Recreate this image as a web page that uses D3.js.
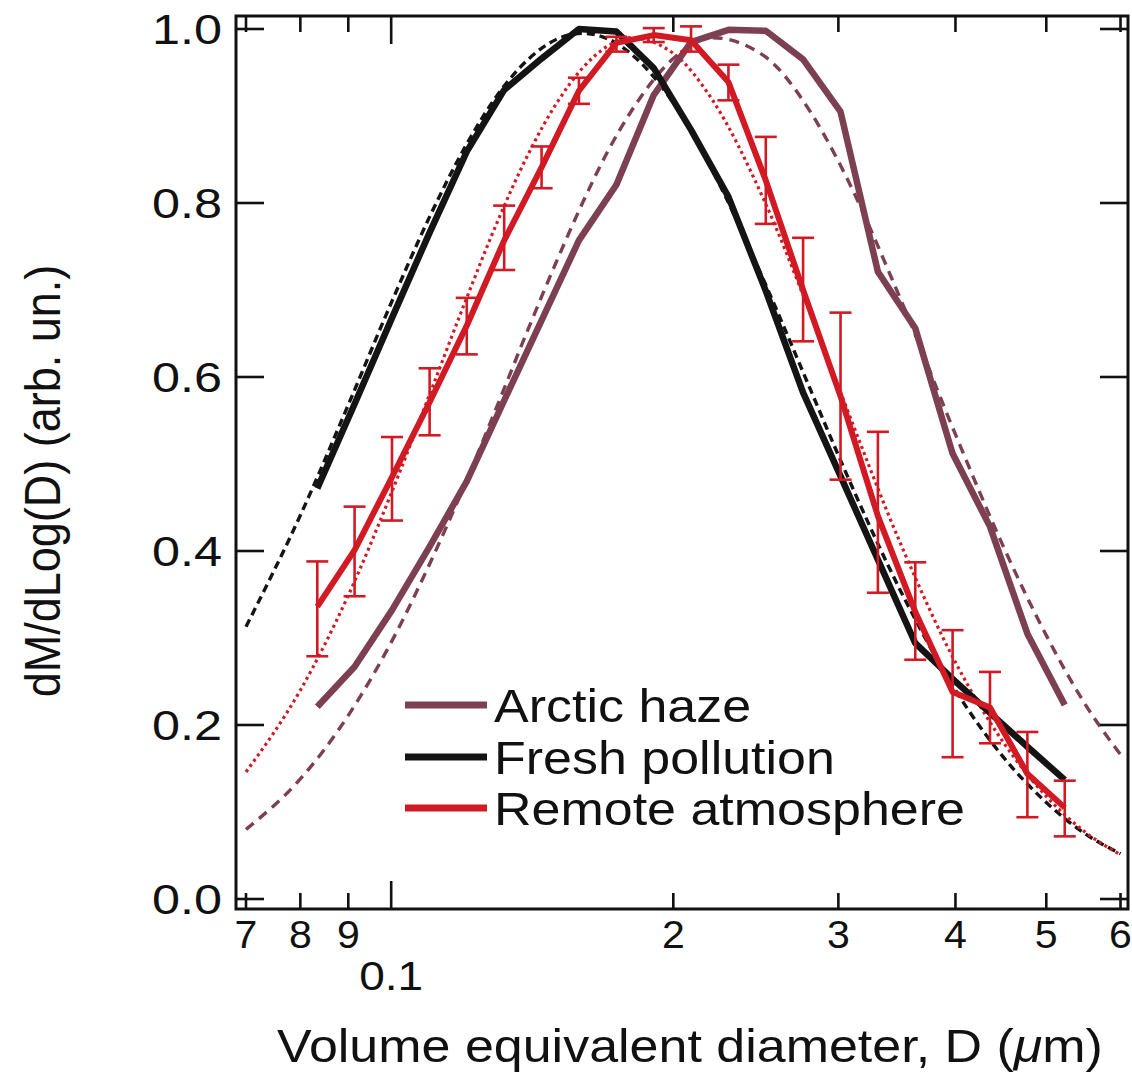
<!DOCTYPE html>
<html><head><meta charset="utf-8">
<script src="https://cdn.jsdelivr.net/npm/d3@7"></script>
<style>html,body{margin:0;padding:0;background:#fff;}svg{display:block;}</style>
</head><body>
<script>
// ---- data ----
const diameters = [0.0834, 0.0914, 0.1002, 0.1099, 0.1204, 0.1320, 0.1447, 0.1586, 0.1739, 0.1906, 0.2089, 0.2290, 0.2510, 0.2751, 0.3016, 0.3306, 0.3624, 0.3972, 0.4354, 0.4773, 0.5232];
const arcticHaze = [0.221, 0.267, 0.332, 0.405, 0.480, 0.573, 0.665, 0.757, 0.821, 0.924, 0.985, 0.999, 0.998, 0.965, 0.905, 0.721, 0.656, 0.512, 0.428, 0.305, 0.223];
const freshPollution = [0.472, 0.569, 0.668, 0.766, 0.859, 0.930, 0.966, 1.000, 0.997, 0.955, 0.884, 0.807, 0.699, 0.582, 0.486, 0.390, 0.294, 0.253, 0.214, 0.175, 0.137];
const remoteAtmosphere = [0.336, 0.401, 0.485, 0.571, 0.659, 0.757, 0.841, 0.929, 0.984, 0.993, 0.987, 0.939, 0.826, 0.700, 0.578, 0.440, 0.330, 0.238, 0.220, 0.144, 0.105];
const remoteUpper = [0.388, 0.451, 0.531, 0.610, 0.691, 0.797, 0.865, 0.944, 0.991, 1.001, 1.003, 0.959, 0.876, 0.760, 0.674, 0.537, 0.387, 0.309, 0.261, 0.192, 0.136];
const remoteLower = [0.279, 0.348, 0.435, 0.533, 0.626, 0.723, 0.817, 0.914, 0.974, 0.985, 0.974, 0.918, 0.776, 0.641, 0.482, 0.352, 0.275, 0.163, 0.179, 0.094, 0.072];

const fitDiameters = [0.07, 0.08, 0.09, 0.10, 0.11, 0.12, 0.13, 0.14, 0.15, 0.16, 0.17, 0.18, 0.20, 0.22, 0.25, 0.28, 0.30, 0.35, 0.40, 0.45, 0.50, 0.55, 0.60];
const arcticHazeFit = [0.080, 0.138, 0.211, 0.295, 0.386, 0.478, 0.569, 0.655, 0.732, 0.800, 0.858, 0.904, 0.966, 0.990, 0.969, 0.905, 0.848, 0.688, 0.534, 0.405, 0.303, 0.224, 0.166];
const freshPollutionFit = [0.313, 0.441, 0.568, 0.685, 0.785, 0.865, 0.925, 0.965, 0.988, 0.995, 0.989, 0.972, 0.915, 0.838, 0.710, 0.586, 0.510, 0.353, 0.240, 0.163, 0.111, 0.075, 0.052];
const remoteAtmosphereFit = [0.146, 0.240, 0.349, 0.466, 0.581, 0.687, 0.780, 0.856, 0.914, 0.955, 0.980, 0.990, 0.972, 0.919, 0.803, 0.673, 0.589, 0.407, 0.272, 0.180, 0.118, 0.077, 0.051];

const xMinorTicks = [0.07, 0.08, 0.09, 0.2, 0.3, 0.4, 0.5, 0.6];
const xMinorLabels = ["7", "8", "9", "2", "3", "4", "5", "6"];
const xMajorTicks = [0.1];
const xMajorLabels = ["0.1"];
const yTicks = [0.0, 0.2, 0.4, 0.6, 0.8, 1.0];
const yTickLabels = ["0.0", "0.2", "0.4", "0.6", "0.8", "1.0"];
const legendLabels = ["Arctic haze", "Fresh pollution", "Remote atmosphere"];

// ---- layout ----
const W = 1132, H = 1075;
const frame = {left: 236, right: 1128, top: 16, bottom: 909};
const colors = {haze: "#7d4053", fresh: "#141414", remote: "#d11a24"};
const FONT = "'Liberation Sans', Arial, Helvetica, sans-serif";

const svg = d3.select("body").append("svg").attr("width", W).attr("height", H)
  .style("background", "#fff");

const x = d3.scaleLog().domain([0.07, 0.6]).range([246, 1120.5]);
const y = d3.scaleLinear().domain([0, 1]).range([899, 29]);

svg.append("clipPath").attr("id", "clip").append("rect")
  .attr("x", frame.left).attr("y", frame.top)
  .attr("width", frame.right - frame.left).attr("height", frame.bottom - frame.top);

const plot = svg.append("g").attr("clip-path", "url(#clip)");

const lineGen = d3.line().x(d => x(d[0])).y(d => y(d[1]));
const smoothGen = d3.line().x(d => x(d[0])).y(d => y(d[1])).curve(d3.curveMonotoneX);
const zip = (a, b) => a.map((v, i) => [v, b[i]]);

// fits
plot.append("path").datum(zip(fitDiameters, arcticHazeFit)).attr("d", smoothGen)
  .attr("fill", "none").attr("stroke", colors.haze).attr("stroke-width", 3.4)
  .attr("stroke-dasharray", "10,7");
plot.append("path").datum(zip(fitDiameters, freshPollutionFit)).attr("d", smoothGen)
  .attr("fill", "none").attr("stroke", colors.fresh).attr("stroke-width", 3.4)
  .attr("stroke-dasharray", "8,5");
plot.append("path").datum(zip(fitDiameters, remoteAtmosphereFit)).attr("d", smoothGen)
  .attr("fill", "none").attr("stroke", colors.remote).attr("stroke-width", 3.2)
  .attr("stroke-dasharray", "3,3.5");

// measured distributions
plot.append("path").datum(zip(diameters, arcticHaze)).attr("d", lineGen)
  .attr("fill", "none").attr("stroke", colors.haze).attr("stroke-width", 6.5)
  .attr("stroke-linejoin", "round");
plot.append("path").datum(zip(diameters, freshPollution)).attr("d", lineGen)
  .attr("fill", "none").attr("stroke", colors.fresh).attr("stroke-width", 6.5)
  .attr("stroke-linejoin", "round");
plot.append("path").datum(zip(diameters, remoteAtmosphere)).attr("d", lineGen)
  .attr("fill", "none").attr("stroke", colors.remote).attr("stroke-width", 6)
  .attr("stroke-linejoin", "round");

// error bars
const eb = plot.append("g").attr("stroke", colors.remote).attr("stroke-width", 2.6).attr("fill", "none");
diameters.forEach((d, i) => {
  const cx = x(d);
  eb.append("line").attr("x1", cx).attr("x2", cx).attr("y1", y(remoteUpper[i])).attr("y2", y(remoteLower[i]));
  eb.append("line").attr("x1", cx - 11).attr("x2", cx + 11).attr("y1", y(remoteUpper[i])).attr("y2", y(remoteUpper[i]));
  eb.append("line").attr("x1", cx - 11).attr("x2", cx + 11).attr("y1", y(remoteLower[i])).attr("y2", y(remoteLower[i]));
});

// frame & ticks
const axes = svg.append("g").attr("stroke", "#111").attr("fill", "none");
axes.append("rect").attr("x", frame.left).attr("y", frame.top)
  .attr("width", frame.right - frame.left).attr("height", frame.bottom - frame.top)
  .attr("stroke-width", 3);
const minorLen = 16, majorLen = 28;
xMinorTicks.forEach(t => {
  const px = x(t);
  axes.append("line").attr("x1", px).attr("x2", px).attr("y1", frame.bottom).attr("y2", frame.bottom - minorLen).attr("stroke-width", 2.6);
  axes.append("line").attr("x1", px).attr("x2", px).attr("y1", frame.top).attr("y2", frame.top + minorLen).attr("stroke-width", 2.6);
});
xMajorTicks.forEach(t => {
  const px = x(t);
  axes.append("line").attr("x1", px).attr("x2", px).attr("y1", frame.bottom).attr("y2", frame.bottom - majorLen).attr("stroke-width", 2.6);
  axes.append("line").attr("x1", px).attr("x2", px).attr("y1", frame.top).attr("y2", frame.top + majorLen).attr("stroke-width", 2.6);
});
yTicks.forEach(t => {
  const py = y(t);
  axes.append("line").attr("x1", frame.left).attr("x2", frame.left + majorLen).attr("y1", py).attr("y2", py).attr("stroke-width", 2.6);
  axes.append("line").attr("x1", frame.right).attr("x2", frame.right - majorLen).attr("y1", py).attr("y2", py).attr("stroke-width", 2.6);
});

// text helper: horizontally stretched text anchored at (px, py)
const txt = svg.append("g").attr("font-family", FONT).attr("fill", "#111");
function stretched(px, py, sx, size, anchor, content) {
  const t = txt.append("text")
    .attr("transform", `translate(${px},${py}) scale(${sx},1)`)
    .attr("text-anchor", anchor).attr("font-size", size);
  if (typeof content === "string") t.text(content);
  else content(t);
  return t;
}

yTicks.forEach((t, i) => {
  stretched(222, y(t) + 15, 1.2, 42, "end", yTickLabels[i]);
});
xMinorTicks.forEach((t, i) => {
  stretched(x(t), 948, 1.08, 38, "middle", xMinorLabels[i]);
});
xMajorTicks.forEach((t, i) => {
  stretched(x(t), 990, 1.15, 40, "middle", xMajorLabels[i]);
});

// axis titles
stretched(690, 1062, 1.13, 46, "middle", t => {
  t.append("tspan").text("Volume equivalent diameter, D (");
  t.append("tspan").attr("font-style", "italic").text("\u03bc");
  t.append("tspan").text("m)");
});

txt.append("text").attr("transform", "translate(60,481) scale(1.1,1) rotate(-90)")
  .attr("text-anchor", "middle").attr("font-size", 45).text("dM/dLog(D) (arb. un.)");

// legend
const legendColors = [colors.haze, colors.fresh, colors.remote];
const legendY = [705, 757, 808];
legendLabels.forEach((lab, i) => {
  svg.append("line").attr("x1", 405).attr("x2", 487).attr("y1", legendY[i]).attr("y2", legendY[i])
    .attr("stroke", legendColors[i]).attr("stroke-width", 7);
  stretched(494, legendY[i] + 16.5, 1.13, 46, "start", lab);
});
</script>
</body></html>
